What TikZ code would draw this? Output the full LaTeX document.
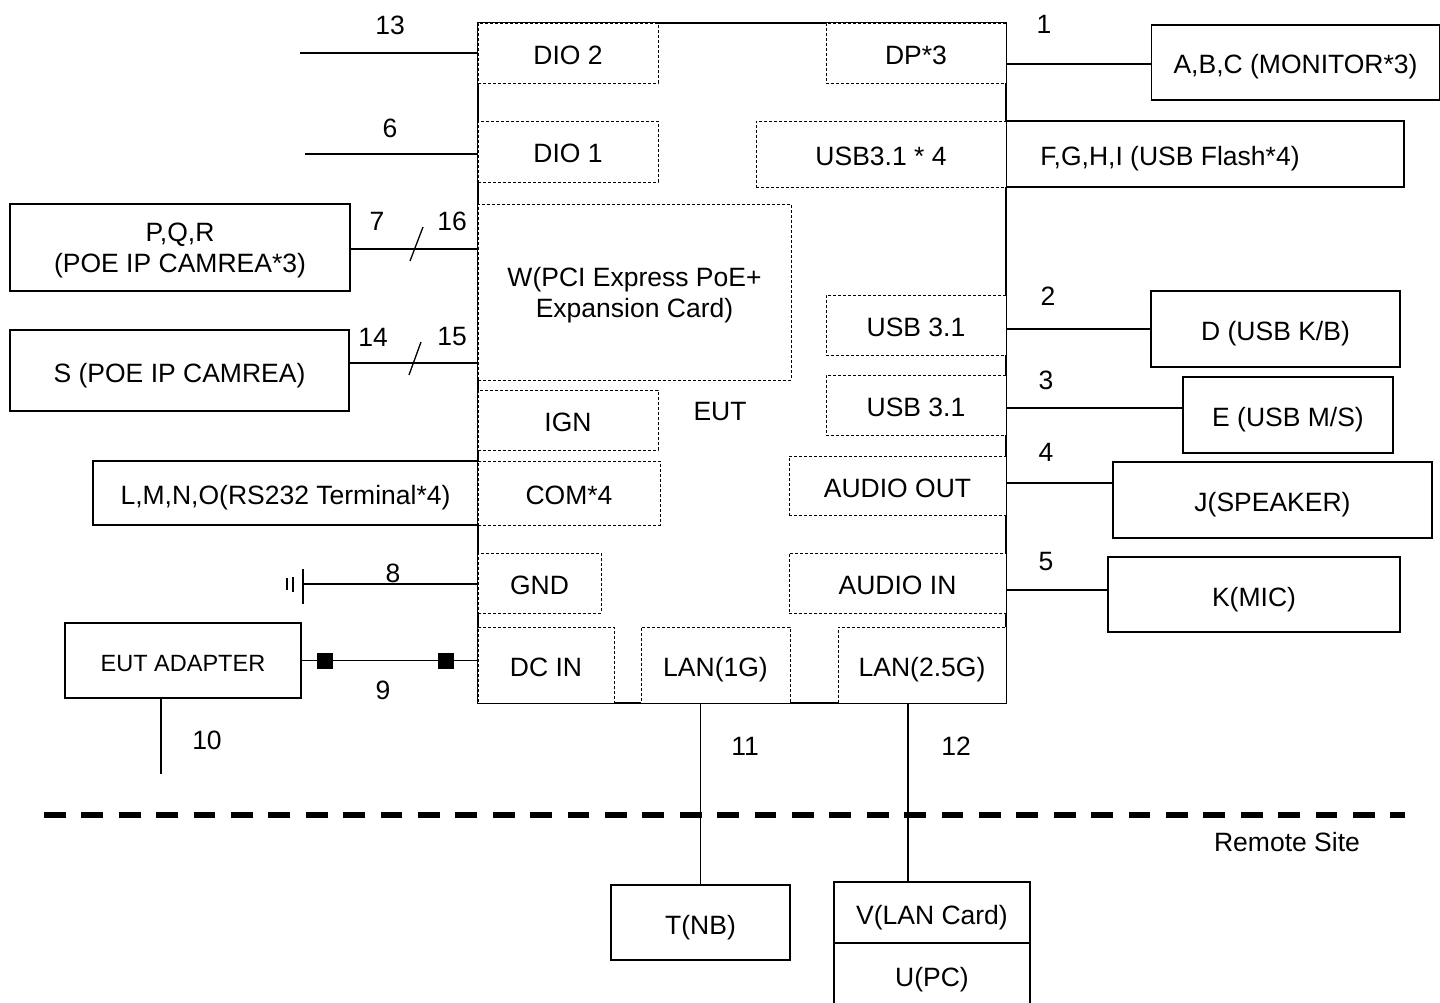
\documentclass[tikz,border=0pt]{standalone}
\usepackage{fontspec}
\setmainfont{Liberation Sans}
\begin{document}
\begin{tikzpicture}[x=1pt,y=-1pt,
  every node/.style={font=\fontsize{26.5}{31}\selectfont, inner sep=0pt, outer sep=0pt},
  solidbox/.style={draw, line width=1.3pt, fill=white, align=center, text height=23pt, text depth=0pt},
  dotbox/.style={draw, line width=0.9pt, dash pattern=on 3pt off 2pt, fill=white, align=center, text height=23pt, text depth=0pt},
  multitext/.style={align=center},
  conn/.style={line width=1.3pt},
  sq/.style={fill=black, minimum size=16pt}]
\useasboundingbox (0,0) rectangle (1440,1003);
\clip (0,0) rectangle (1440,1003);

% main EUT box
\node[draw, line width=1.3pt, minimum width=528pt, minimum height=680pt] (eut) at (742,363) {};
\node (eutlabel) at (720,412) {EUT};

% external boxes (drawn before dotted boxes sharing edges)
\node[solidbox, minimum width=288pt, minimum height=75pt] (mon) at (1295.5,62.5) {A,B,C (MONITOR*3)};
\node[solidbox, minimum width=398pt, minimum height=66pt] (flash) at (1205,154) {\hspace*{-70pt}F,G,H,I (USB Flash*4)};
\node[solidbox, minimum width=249pt, minimum height=76pt] (kb) at (1275.5,329) {D (USB K/B)};
\node[solidbox, minimum width=210pt, minimum height=76pt] (ms) at (1288,415) {E (USB M/S)};
\node[solidbox, minimum width=319pt, minimum height=76pt] (spk) at (1272.5,500) {J(SPEAKER)};
\node[solidbox, minimum width=292pt, minimum height=75pt] (mic) at (1254,594.5) {K(MIC)};
\node[solidbox, minimum width=340pt, minimum height=87pt] (pqr) at (180,247.5) {};
\node[multitext] (pqrtext) at (180,250) {P,Q,R\\(POE IP CAMREA*3)};
\node[solidbox, minimum width=339pt, minimum height=81pt] (scam) at (179.5,370.5) {S (POE IP CAMREA)};
\node[solidbox, minimum width=385pt, minimum height=64pt] (lmno) at (285.5,493) {L,M,N,O(RS232 Terminal*4)};
\node[solidbox, minimum width=236pt, minimum height=75pt, font=\fontsize{23.5}{28}\selectfont, text height=22pt] (adapter) at (183,660.5) {EUT ADAPTER};
\node[solidbox, minimum width=179pt, minimum height=75pt] (nb) at (700.5,922.5) {T(NB)};
\node[solidbox, minimum width=196pt, minimum height=61pt] (vlan) at (932,912.5) {V(LAN Card)};
\node[solidbox, minimum width=196pt, minimum height=64pt] (upc) at (932,975) {U(PC)};

% dotted port boxes
\node[dotbox, minimum width=180pt, minimum height=60pt] (dio2) at (568,53) {DIO 2};
\node[dotbox, minimum width=180pt, minimum height=60pt] (dp) at (916,53) {DP*3};
\node[dotbox, minimum width=180pt, minimum height=61pt] (dio1) at (568,151.5) {DIO 1};
\node[dotbox, minimum width=250pt, minimum height=66pt] (usb4) at (881,154) {USB3.1 * 4};
\node[dotbox, minimum width=313pt, minimum height=176pt] (wcard) at (634.5,292) {};
\node[multitext] (wtext) at (634.5,295) {W(PCI Express PoE+\\Expansion Card)};
\node[dotbox, minimum width=180pt, minimum height=60pt] (usba) at (916,325) {USB 3.1};
\node[dotbox, minimum width=180pt, minimum height=60pt] (usbb) at (916,405) {USB 3.1};
\node[dotbox, minimum width=180pt, minimum height=60pt] (ign) at (568,420) {IGN};
\node[dotbox, minimum width=182pt, minimum height=64pt] (com) at (569,493) {COM*4};
\node[dotbox, minimum width=217pt, minimum height=59pt] (aout) at (897.5,485.5) {AUDIO OUT};
\node[dotbox, minimum width=123pt, minimum height=60pt] (gnd) at (539.5,583) {GND};
\node[dotbox, minimum width=217pt, minimum height=60pt] (ain) at (897.5,583) {AUDIO IN};
\node[dotbox, minimum width=136pt, minimum height=76pt] (dcin) at (546,665) {DC IN};
\node[dotbox, minimum width=149pt, minimum height=76pt] (lan1) at (715.5,665) {LAN(1G)};
\node[dotbox, minimum width=168pt, minimum height=76pt] (lan25) at (922,665) {LAN(2.5G)};

% connectors
\coordinate (c13) at (300,53);
\draw[conn] (c13) -- (dio2.west);
\coordinate (c6) at (305,154);
\draw[conn] (c6) -- (c6 -| dio1.west);
\draw[conn] ([yshift=-1.5pt]mon.west -| dp.east) -- ([yshift=-1.5pt]mon.west);
\draw[conn] ([yshift=-1.5pt]pqr.east) -- ([yshift=-1.5pt]pqr.east -| wcard.west);
\draw[conn] (423,227) -- (410,261);
\draw[conn] ([yshift=7.5pt]scam.east) -- ([yshift=7.5pt]scam.east -| wcard.west);
\draw[conn] (421,342) -- (409,375);
\draw[conn] (kb.west -| usba.east) -- (kb.west);
\draw[conn] ([yshift=-3pt]usbb.east) -- ([yshift=-3pt]usbb.east -| ms.west);
\draw[conn] ([yshift=2.5pt]aout.east) -- ([yshift=2.5pt]aout.east -| spk.west);
\draw[conn] ([yshift=4.5pt]mic.west -| ain.east) -- ([yshift=4.5pt]mic.west);
% ground
\coordinate (gr) at (303,584);
\draw[conn] (gr) -- (gr -| gnd.west);
\draw[conn] (303,569) -- (303,604);
\draw[line width=1.2pt] (293,577) -- (293,592);
\draw[line width=1.2pt] (287,578) -- (287,590);
% DC cable
\draw[conn] (adapter.east) -- (adapter.east -| dcin.west);
\node[sq] (sq1) at (325,660.5) {};
\node[sq] (sq2) at (446,660.5) {};
\draw[conn] ([xshift=-22pt]adapter.south) -- ++(0,76);
% LAN
\draw[conn] (nb.north |- lan1.south) -- (nb.north);
\draw[conn] ([xshift=-24pt]vlan.north |- lan25.south) -- ([xshift=-24pt]vlan.north);

% remote site divider
\coordinate (d1) at (44,815);
\coordinate (d2) at (1405,815);
\draw[line width=5.3pt, dash pattern=on 21.7pt off 15.7pt] (d1) -- (d2);
\node (remote) at (1287,842) {Remote Site};

% labels
\node (l13) at (390,25) {13};
\node (l6) at (390,128) {6};
\node (l1) at (1044,24) {1};
\node (l7) at (377,221) {7};
\node (l16) at (452,221) {16};
\node (l14) at (373,337) {14};
\node (l15) at (452,337) {15};
\node (l8) at (393,573) {8};
\node (l9) at (383,690) {9};
\node (l10) at (207,740) {10};
\node (l2) at (1048,296) {2};
\node (l3) at (1046,380) {3};
\node (l4) at (1046,452) {4};
\node (l5) at (1046,562) {5};
\node (l11) at (745,746) {11};
\node (l12) at (956,746) {12};
\end{tikzpicture}
\end{document}
